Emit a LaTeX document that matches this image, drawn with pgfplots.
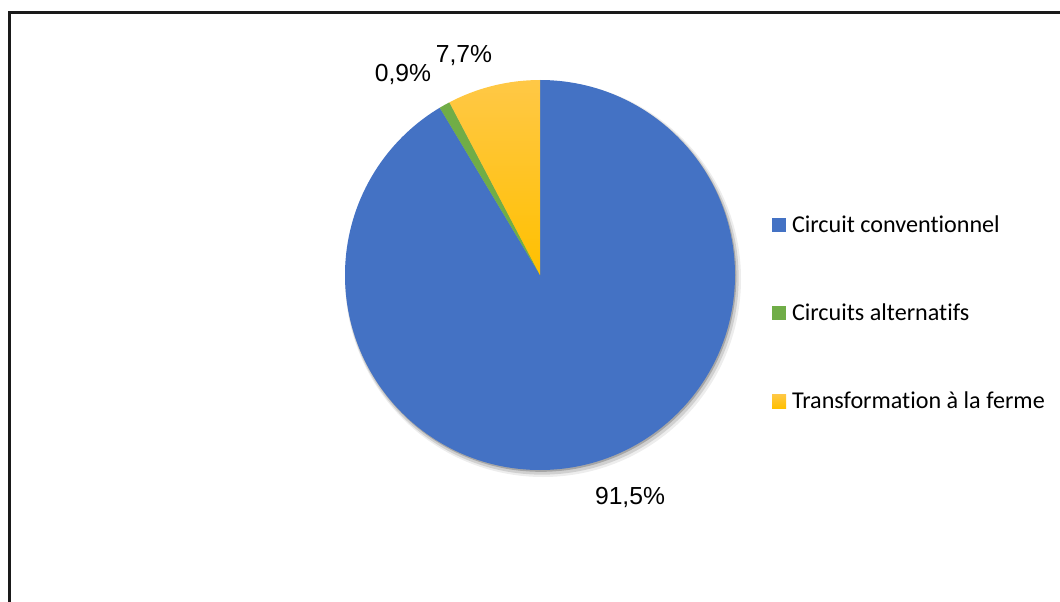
\documentclass[border=0pt]{standalone}
\usepackage{pgfplots}
\pgfplotsset{compat=1.18}
\usepackage{fontspec}
\setmainfont[Ligatures={NoCommon,NoContextual}]{Carlito}
\newfontfamily\arialf{Liberation Sans}
\definecolor{cblue}{HTML}{4472C4}
\definecolor{cgreen}{HTML}{70AD47}
\definecolor{cyelT}{HTML}{FFC846}
\definecolor{cyelB}{HTML}{FFC000}
\definecolor{frame}{HTML}{1A1A1A}

% values (percent), clockwise from the top
\def\vA{91.5}% Circuit conventionnel
\def\vB{0.9}%  Circuits alternatifs
\def\vC{7.7}%  Transformation a la ferme

\begin{document}
\begin{tikzpicture}
\pgfmathsetmacro{\tot}{\vA+\vB+\vC}
\pgfmathsetmacro{\aA}{90-360*(\vA/\tot)}
\pgfmathsetmacro{\aB}{\aA-360*(\vB/\tot)}
\def\R{146.25pt}
\begin{axis}[
  at={(0,0)}, anchor=south west,
  width=795pt, height=450.75pt, scale only axis,
  xmin=0, xmax=1060, ymin=0, ymax=601,
  hide axis, clip=false,
  legend image code/.code={\path[#1] (0pt,-5.25pt) rectangle (10.5pt,5.25pt); \path (15pt,0pt);},
  legend cell align=left,
  legend style={draw=none, fill=none, inner sep=0pt, outer sep=0pt,
    at={(axis cs:772,288)}, anchor=west, row sep=49pt,
    font=\fontsize{18.1pt}{21pt}\selectfont,
    nodes={inner sep=0pt, text height=14.3pt, text depth=2.7pt}},
]
\addlegendimage{fill=cblue, draw=none}
\addlegendentry{Circuit conventionnel}
\addlegendimage{fill=cgreen, draw=none}
\addlegendentry{Circuits alternatifs}
\addlegendimage{top color=cyelT, bottom color=cyelB, draw=none}
\addlegendentry{Transformation à la ferme}

% frame
\draw[line width=1.6pt, frame] (axis cs:9.5,-50) -- (axis cs:9.5,588.5) -- (axis cs:1200,588.5);

% shadow
\fill[black, opacity=0.07] (axis cs:543,322) circle[radius=148.5pt];
\fill[black, opacity=0.12] (axis cs:542,323) circle[radius=147.5pt];
\fill[black, opacity=0.2] (axis cs:541,324.5) circle[radius=146.5pt];

% slices
\fill[cblue] (axis cs:540,326) -- ++(90:\R) arc[start angle=90, end angle=\aA, radius=\R] -- cycle;
\fill[cgreen] (axis cs:540,326) -- ++(\aA:\R) arc[start angle=\aA, end angle=\aB, radius=\R] -- cycle;
\path[top color=cyelT, bottom color=cyelB] (axis cs:540,326) -- ++(\aB:\R) arc[start angle=\aB, end angle=-270, radius=\R] -- cycle;

% data labels
\node[font=\arialf\fontsize{18.5pt}{22pt}\selectfont] at (axis cs:630,104) {91,5\%};
\node[font=\arialf\fontsize{18.5pt}{22pt}\selectfont] at (axis cs:403,527) {0,9\%};
\node[font=\arialf\fontsize{18.5pt}{22pt}\selectfont] at (axis cs:464,545) {7,7\%};
\end{axis}
\pgfresetboundingbox
\path[use as bounding box] (0,0) rectangle (795pt,450.75pt);
\end{tikzpicture}
\end{document}
